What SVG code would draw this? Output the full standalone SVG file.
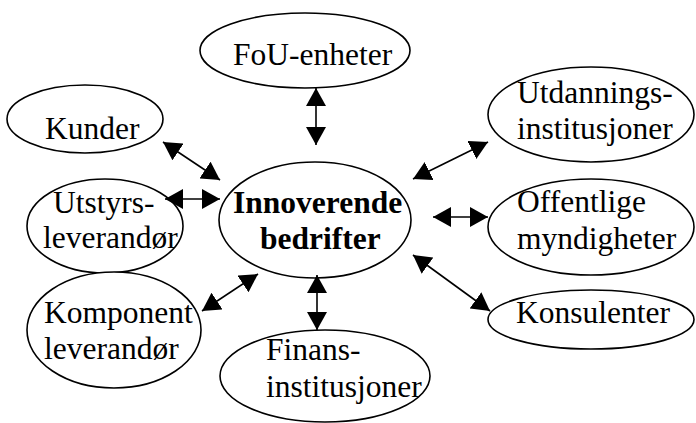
<svg xmlns="http://www.w3.org/2000/svg" width="696" height="423" viewBox="0 0 696 423">
<style>
.n ellipse{fill:#fff;stroke:#000;stroke-width:1.6}
text{font-family:"Liberation Serif","Times New Roman",serif;font-size:31.5px;fill:#000}
.b{font-weight:bold}
.c line{stroke:#000;stroke-width:1.6;marker-start:url(#ah);marker-end:url(#ah)}
</style>
<defs>
<marker id="ah" viewBox="0 0 18 20" refX="18" refY="10" markerWidth="18" markerHeight="20" markerUnits="userSpaceOnUse" orient="auto-start-reverse">
<path d="M0,0 L18,10 L0,20 z" fill="#000"/>
</marker>
</defs>
<rect width="696" height="423" fill="#fff"/>
<g id="fou" class="n"><ellipse cx="305" cy="50.5" rx="105" ry="37.5"/><text x="233" y="65">FoU-enheter</text></g>
<g id="kunder" class="n"><ellipse cx="85" cy="119" rx="78" ry="34"/><text x="45" y="139">Kunder</text></g>
<g id="utstyr" class="n"><ellipse cx="105" cy="226" rx="78" ry="47"/><text x="53" y="213">Utstyrs-</text><text x="43" y="248">leverandør</text></g>
<g id="komponent" class="n"><ellipse cx="114" cy="330" rx="87" ry="58"/><text x="44" y="323">Komponent</text><text x="44" y="359">leverandør</text></g>
<g id="innov" class="n"><ellipse cx="315" cy="220" rx="96" ry="58"/><text class="b" x="233" y="213">Innoverende</text><text class="b" x="260" y="249">bedrifter</text></g>
<g id="utdanning" class="n"><ellipse cx="591" cy="114.5" rx="103" ry="47.5"/><text x="517" y="103">Utdannings-</text><text x="517" y="139">institusjoner</text></g>
<g id="offentlige" class="n"><ellipse cx="591" cy="227" rx="103" ry="48"/><text x="517" y="212">Offentlige</text><text x="517" y="249">myndigheter</text></g>
<g id="konsulenter" class="n"><ellipse cx="591" cy="319.5" rx="103" ry="29.5"/><text x="516" y="323">Konsulenter</text></g>
<g id="finans" class="n"><ellipse cx="325" cy="376" rx="105" ry="46"/><text x="266" y="360">Finans-</text><text x="266" y="397">institusjoner</text></g>
<g id="connectors" class="c">
<line x1="316" y1="88" x2="316" y2="145"/>
<line x1="317" y1="275" x2="317" y2="330"/>
<line x1="163" y1="142" x2="220" y2="180"/>
<line x1="165" y1="199" x2="220" y2="199"/>
<line x1="202" y1="311" x2="258" y2="274"/>
<line x1="413" y1="179" x2="488" y2="142"/>
<line x1="433" y1="217" x2="488" y2="217"/>
<line x1="413" y1="255" x2="490" y2="311"/>
</g>
</svg>
